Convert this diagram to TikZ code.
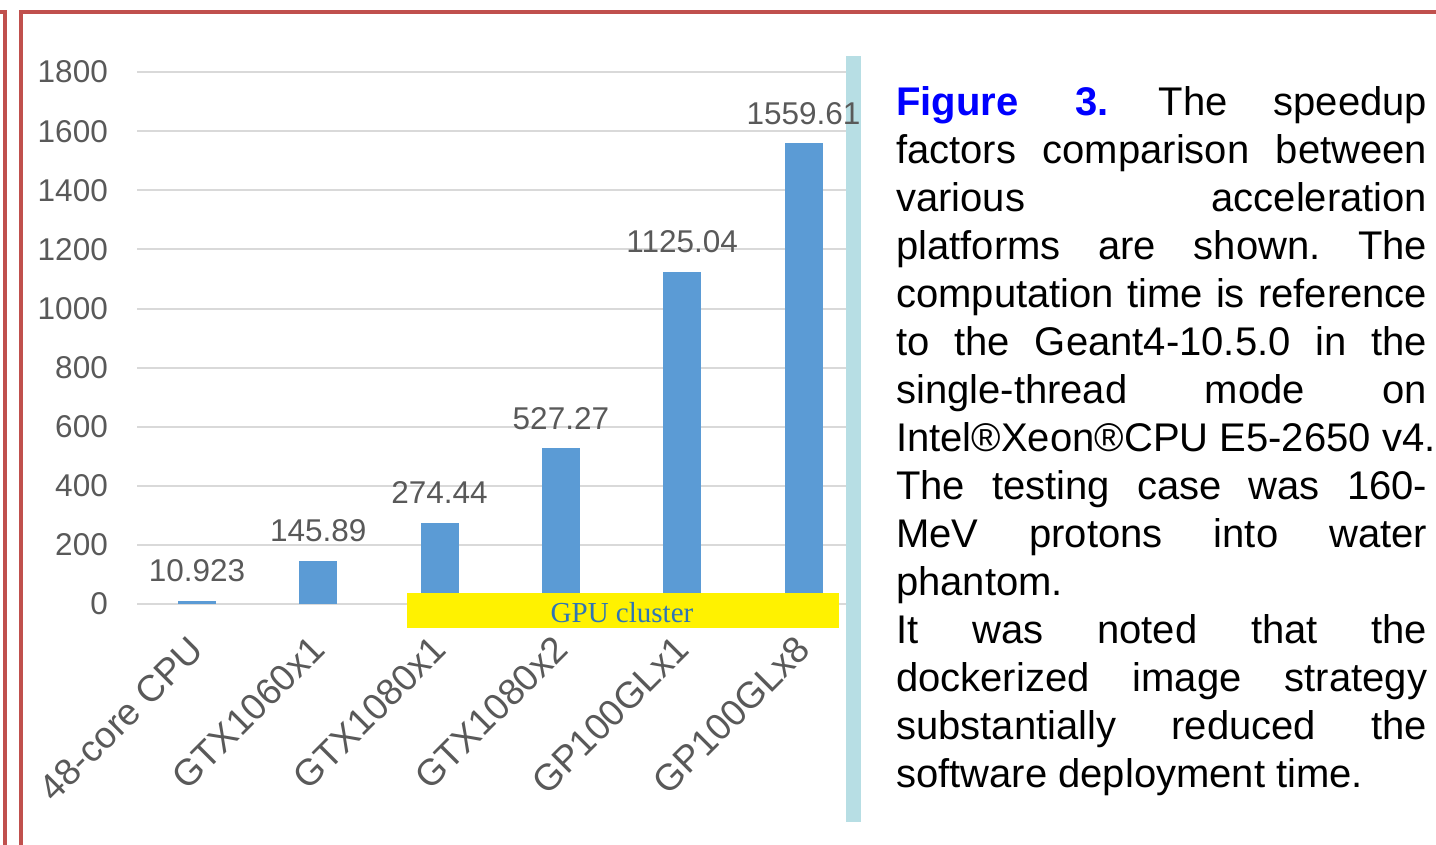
\documentclass[tikz,border=0pt]{standalone}
\usepackage{fontspec}
\setmainfont{Liberation Sans}
\newfontfamily\gpuserif{Liberation Serif}
\frenchspacing
\definecolor{borderred}{RGB}{192,80,77}
\definecolor{barblue}{RGB}{91,155,213}
\definecolor{gridgray}{RGB}{217,217,217}
\definecolor{axisgray}{RGB}{89,89,89}
\definecolor{tealbar}{RGB}{183,222,228}
\definecolor{gpublue}{RGB}{46,117,182}
\definecolor{figblue}{RGB}{0,0,255}
\begin{document}
\begin{tikzpicture}[x=1pt,y=-1pt,
  frameline/.style={draw=borderred,line width=4pt},
  gridline/.style={draw=gridgray,line width=2pt},
  ax/.style={font=\fontsize{31.5}{36}\selectfont,text=axisgray,inner sep=0pt},
  catlabel/.style={font=\fontsize{37}{40}\selectfont,text=axisgray,inner sep=0pt,rotate=45,anchor=east},
  capline/.style={font=\fontsize{40}{48}\selectfont,text=black,inner sep=0pt,anchor=base west}]
\useasboundingbox (0,0) rectangle (1436,844);
\fill[white] (0,0) rectangle (1436,844);
% frames
\draw[frameline] (0,12) -- (5.3,12) -- (5.3,846);
\draw[frameline] (21,846) -- (21,12) -- (1438,12);
% grid and y labels
\foreach \v in {0,200,...,1800}{
  \pgfmathsetmacro\gy{604-0.2955*\v}
  \draw[gridline] (137,\gy) -- (846,\gy);
  \node[ax,anchor=east] (ylab\v) at (108,\gy) {\v};
}
% teal bar
\fill[tealbar] (846,56) rectangle (861,822);
% bars and values
\foreach \val [count=\i from 0] in {10.923,145.89,274.44,527.27,1125.04,1559.61}{
  \pgfmathsetmacro\cx{197+121.3*\i}
  \pgfmathsetmacro\bartop{604-0.2955*\val}
  \fill[barblue] (\cx-19,604) rectangle (\cx+19,\bartop);
  \node[ax,anchor=base] (val\i) at (\cx,\bartop-19) {\val};
}
% GPU cluster band
\fill[yellow] (406.7,593.3) rectangle (838.7,627.7);
\node[font=\gpuserif\fontsize{29}{32}\selectfont,text=gpublue,inner sep=0pt,anchor=base] (gpulabel) at (622,622) {GPU cluster};
% category labels
\foreach \nm [count=\i from 0] in {48-core CPU,GTX1060x1,GTX1080x1,GTX1080x2,GP100GLx1,GP100GLx8}{
  \pgfmathsetmacro\cx{197+121.3*\i}
  \node[catlabel] (cat\i) at (\cx,643) {\nm};
}
% caption
\node[capline] (cap1) at (896,115) {\hbox to 531pt{\textcolor{figblue}{\bfseries Figure}\hskip57pt\textcolor{figblue}{\bfseries 3.}\hskip50pt The\hfill speedup}};
\node[capline] (cap2) at (896,163) {\hbox to 531pt{factors comparison between}};
\node[capline] (cap3) at (896,211) {\hbox to 531pt{various acceleration}};
\node[capline] (cap4) at (896,259) {\hbox to 531pt{platforms are shown. The}};
\node[capline] (cap5) at (896,307) {\hbox to 531pt{computation time is reference}};
\node[capline] (cap6) at (896,355) {\hbox to 531pt{to the Geant4-10.5.0 in the}};
\node[capline] (cap7) at (896,403) {\hbox to 531pt{single-thread mode on}};
\node[capline] (cap8) at (896,451) {Intel®Xeon®CPU E5-2650 v4.};
\node[capline] (cap9) at (896,499) {\hbox to 531pt{The testing case was 160-}};
\node[capline] (cap10) at (896,547) {\hbox to 531pt{MeV protons into water}};
\node[capline] (cap11) at (896,595) {phantom.};
\node[capline] (cap12) at (896,643) {\hbox to 531pt{It was noted that the}};
\node[capline] (cap13) at (896,691) {\hbox to 531pt{dockerized image strategy}};
\node[capline] (cap14) at (896,739) {\hbox to 531pt{substantially reduced the}};
\node[capline] (cap15) at (896,787) {software deployment time.};
\end{tikzpicture}
\end{document}
